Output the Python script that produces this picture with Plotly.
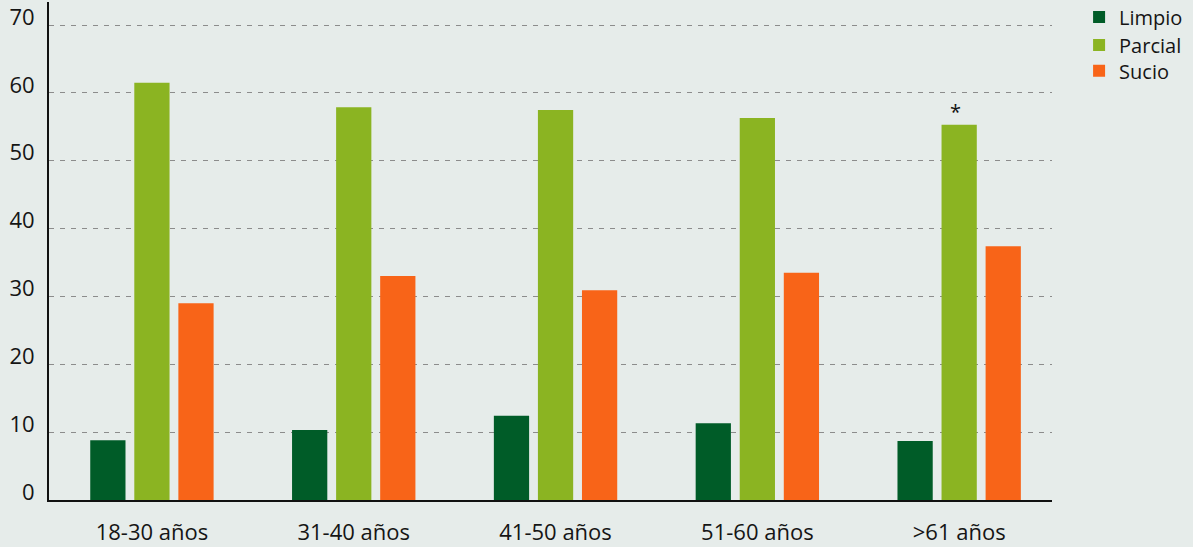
import plotly.graph_objects as go

categories = ["18-30 años", "31-40 años", "41-50 años", "51-60 años", ">61 años"]
limpio = [8.8, 10.3, 12.4, 11.3, 8.7]
parcial = [61.5, 57.9, 57.5, 56.3, 55.3]
sucio = [29.0, 33.0, 30.9, 33.5, 37.4]
series_names = ["Limpio", "Parcial", "Sucio"]
colors = ["#005c28", "#8bb422", "#f86418"]
y_ticks = [0, 10, 20, 30, 40, 50, 60, 70]

FONT = "Open Sans"
legend_ids = ["legend", "legend2", "legend3"]
legend_y = [1.009, 0.953, 0.901]

fig = go.Figure()
for name, vals, col, lid in zip(series_names, [limpio, parcial, sucio], colors, legend_ids):
    fig.add_trace(go.Bar(x=categories, y=vals, name=name, marker_color=col,
                         marker_line_width=0, legend=lid))

fig.add_annotation(x=categories[4], y=parcial[4], text="*", showarrow=False,
                   yanchor="bottom", yshift=-2, xshift=-4,
                   font=dict(family=FONT, size=20, color="#111111"))

legend_common = dict(x=1.027, xanchor="left", yanchor="top",
                     bgcolor="rgba(0,0,0,0)", font=dict(size=20),
                     itemwidth=30)
fig.update_layout(
    width=1193, height=547,
    margin=dict(l=49, r=141, t=2, b=47, autoexpand=False),
    paper_bgcolor="#e6ecea", plot_bgcolor="#e6ecea",
    barmode="group", bargap=0.345, bargroupgap=0.2,
    font=dict(family=FONT, size=22, color="#151515"),
    legend=dict(y=legend_y[0], **legend_common),
    legend2=dict(y=legend_y[1], **legend_common),
    legend3=dict(y=legend_y[2], **legend_common),
    showlegend=True,
)
fig.update_xaxes(range=[-0.51, 4.46], showline=True, linecolor="#111111",
                 linewidth=2, showgrid=False, ticks="", tickfont=dict(size=22),
                 ticklabelstandoff=12, automargin=False)
fig.update_yaxes(range=[0, 73.4], tickvals=y_ticks, showline=True,
                 linecolor="#111111", linewidth=2, showgrid=True,
                 gridcolor="#8c8c8c", griddash="5px,6px", gridwidth=1,
                 zeroline=False, ticks="", tickfont=dict(size=22),
                 ticklabelstandoff=8, ticklabelshift=-8, automargin=False)

fig.write_html("out.html", config={"displayModeBar": False},
               post_script="document.body.style.margin='0';document.body.style.background='#e6ecea';")
